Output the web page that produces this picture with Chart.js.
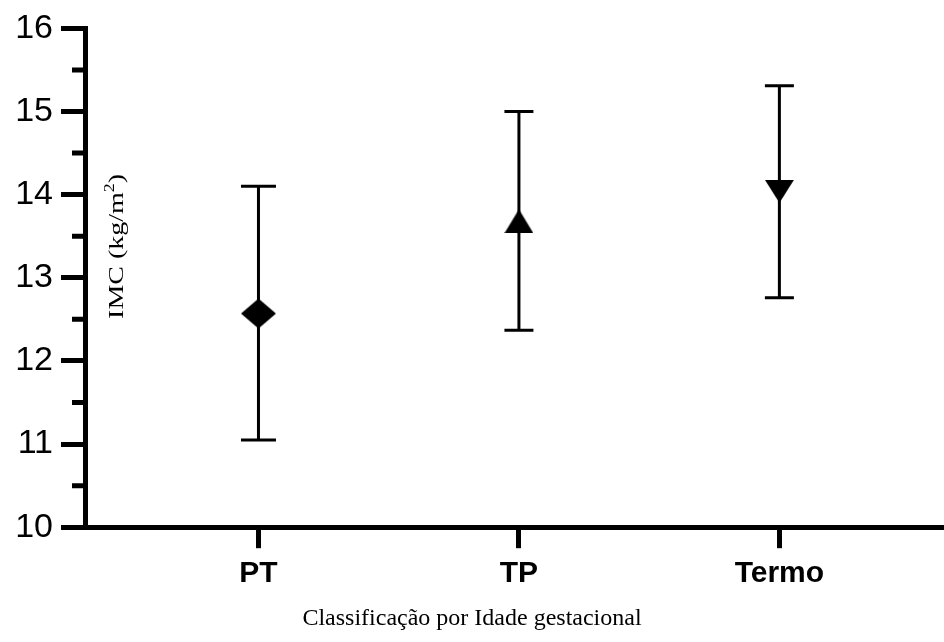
<!DOCTYPE html>
<html lang="pt">
<head>
<meta charset="utf-8">
<title>IMC por idade gestacional</title>
<script src="https://cdn.jsdelivr.net/npm/chart.js@4.4.0/dist/chart.umd.min.js"></script>
<style>
  html, body { margin: 0; padding: 0; background: #fff; overflow: hidden; }
  #wrap { width: 944px; height: 642px; }
  canvas { display: block; }
</style>
</head>
<body>
<div id="wrap"><canvas id="imcChart" width="944" height="642"></canvas></div>
<script>
// grupos, médias e limites das barras de erro
const grupos = ['PT', 'TP', 'Termo'];
const medias = [12.57, 13.68, 14.04];
const limInf = [11.05, 12.37, 12.76];
const limSup = [14.10, 15.00, 15.31];
const yTicks = [10, 11, 12, 13, 14, 15, 16];
const yMinor = [10.5, 11.5, 12.5, 13.5, 14.5, 15.5];

const SANS = "'Liberation Sans', Arial, sans-serif";
const SERIF = "'Liberation Serif', 'Times New Roman', serif";

// marcadores num canvas pequeno, centrados na própria caixa
function marcador(tipo, w, h) {
  const c = document.createElement('canvas');
  c.width = w; c.height = h;
  const g = c.getContext('2d');
  g.fillStyle = '#000';
  g.beginPath();
  if (tipo === 'losango') {
    g.moveTo(w / 2, 0); g.lineTo(w, h / 2); g.lineTo(w / 2, h); g.lineTo(0, h / 2);
  } else if (tipo === 'cima') {
    g.moveTo(w / 2, 0); g.lineTo(w, h); g.lineTo(0, h);
  } else {
    g.moveTo(0, 0); g.lineTo(w, 0); g.lineTo(w / 2, h);
  }
  g.closePath();
  g.fill();
  return c;
}
const estilos = [marcador('losango', 35, 30), marcador('cima', 29, 24), marcador('baixo', 29, 23)];
const capW = [35, 29, 29];

// barras de erro verticais com traço nas pontas
const barrasErro = {
  id: 'barrasErro',
  beforeDatasetsDraw(chart) {
    const { ctx, scales: { x, y } } = chart;
    ctx.save();
    ctx.strokeStyle = '#000';
    ctx.lineWidth = 3;
    grupos.forEach((g, i) => {
      const px = x.getPixelForValue(i + 1);
      const y1 = y.getPixelForValue(limSup[i]);
      const y2 = y.getPixelForValue(limInf[i]);
      const h = capW[i] / 2;
      ctx.beginPath();
      ctx.moveTo(px, y1); ctx.lineTo(px, y2);
      ctx.moveTo(px - h, y1); ctx.lineTo(px + h, y1);
      ctx.moveTo(px - h, y2); ctx.lineTo(px + h, y2);
      ctx.stroke();
    });
    ctx.restore();
  }
};

// ticks menores do eixo y e o rótulo "IMC (kg/m2)" dentro da área
const extras = {
  id: 'extras',
  afterDraw(chart) {
    const { ctx, scales: { y }, chartArea } = chart;
    ctx.save();
    ctx.strokeStyle = '#000';
    ctx.lineWidth = 5;
    ctx.beginPath();
    yMinor.forEach(v => {
      const py = y.getPixelForValue(v);
      ctx.moveTo(chartArea.left - 13, py);
      ctx.lineTo(chartArea.left, py);
    });
    ctx.stroke();

    ctx.fillStyle = '#000';
    ctx.translate(chartArea.left + 38, chartArea.top + 218);
    ctx.rotate(-Math.PI / 2);
    const a = 'IMC (kg/m', b = '2', c = ')';
    const fonteN = '22px ' + SERIF, fonteS = '14px ' + SERIF;
    ctx.font = fonteN;
    const wa = ctx.measureText(a).width, wc = ctx.measureText(c).width;
    ctx.font = fonteS;
    const wb = ctx.measureText(b).width;
    const total = wa + wb + wc;
    ctx.scale(145 / total, 1);
    let x0 = -total / 2;
    ctx.textBaseline = 'alphabetic';
    ctx.font = fonteN;
    ctx.fillText(a, x0, 0);
    ctx.font = fonteS;
    ctx.fillText(b, x0 + wa, -9);
    ctx.font = fonteN;
    ctx.fillText(c, x0 + wa + wb, 0);
    ctx.restore();
  }
};

new Chart(document.getElementById('imcChart'), {
  type: 'scatter',
  data: {
    datasets: [{
      data: grupos.map((g, i) => ({ x: i + 1, y: medias[i] })),
      pointStyle: estilos,
      pointRadius: 16,
      pointHoverRadius: 16,
      showLine: false,
      clip: false
    }]
  },
  options: {
    responsive: false,
    animation: false,
    devicePixelRatio: 1,
    layout: { autoPadding: false, padding: { top: 12, left: 0, right: 0, bottom: 0 } },
    plugins: {
      legend: { display: false },
      tooltip: { enabled: false },
      title: {
        display: true,
        position: 'bottom',
        text: 'Classificação por Idade gestacional',
        color: '#000',
        font: { family: SERIF, size: 24, weight: 'normal' },
        padding: { top: 11, bottom: 9 }
      }
    },
    scales: {
      x: {
        type: 'linear',
        min: 0.334,
        max: 3.632,
        afterBuildTicks: s => { s.ticks = grupos.map((g, i) => ({ value: i + 1 })); },
        afterFit: s => { s.height = 66; s.paddingRight = 0; s.paddingLeft = 0; },
        ticks: {
          callback: v => grupos[v - 1],
          color: '#000',
          font: { family: SANS, size: 30, weight: 'bold' },
          padding: 8,
          maxRotation: 0,
          autoSkip: false
        },
        grid: { drawOnChartArea: false, tickLength: 21, tickWidth: 5, tickColor: '#000' },
        border: { display: true, width: 5, color: '#000' }
      },
      y: {
        min: 10,
        max: 16,
        afterBuildTicks: s => { s.ticks = yTicks.map(v => ({ value: v })); },
        afterFit: s => { s.width = 85; },
        ticks: { color: '#000', font: { family: SANS, size: 34 }, padding: 8 },
        grid: { drawOnChartArea: false, tickLength: 24, tickWidth: 5, tickColor: '#000' },
        border: { display: true, width: 5, color: '#000' }
      }
    }
  },
  plugins: [barrasErro, extras]
});
</script>
</body>
</html>
